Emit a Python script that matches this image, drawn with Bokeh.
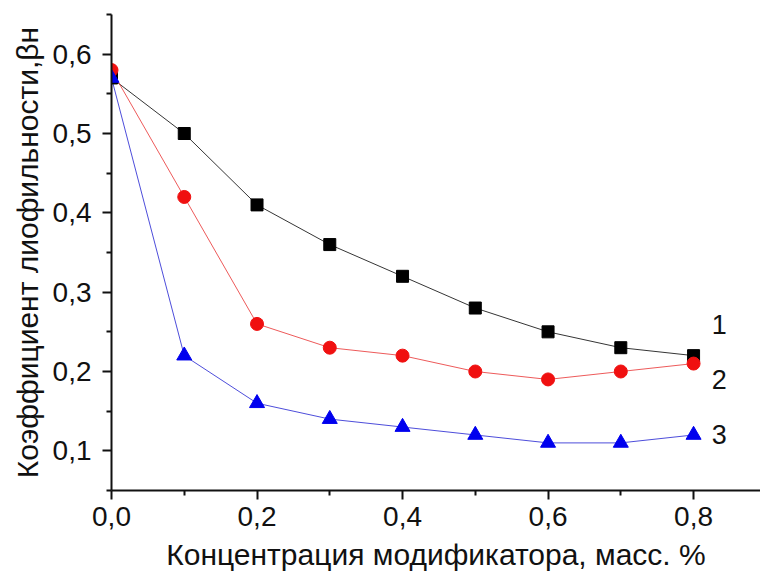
from bokeh.plotting import figure
from bokeh.models import FixedTicker, CustomJSTickFormatter, Range1d
from bokeh.core.properties import value
from bokeh.embed import file_html
from bokeh.resources import INLINE

conc = [0.0, 0.1, 0.2, 0.3, 0.4, 0.5, 0.6, 0.7, 0.8]
series1 = [0.57, 0.50, 0.41, 0.36, 0.32, 0.28, 0.25, 0.23, 0.22]
series2 = [0.58, 0.42, 0.26, 0.23, 0.22, 0.20, 0.19, 0.20, 0.21]
series3 = [0.57, 0.22, 0.16, 0.14, 0.13, 0.12, 0.11, 0.11, 0.12]
curve_labels = ["1", "2", "3"]
label_x = [0.825, 0.825, 0.825]
label_y = [0.259, 0.19, 0.12]
x_ticks = [0.0, 0.2, 0.4, 0.6, 0.8]
x_minor = [0.1, 0.3, 0.5, 0.7, 0.9]
y_ticks = [0.1, 0.2, 0.3, 0.4, 0.5, 0.6]
y_minor = [0.05, 0.15, 0.25, 0.35, 0.45, 0.55, 0.65]

FONT = "Liberation Sans"

p = figure(width=760, height=575, output_backend="svg", toolbar_location=None,
           x_range=Range1d(0, 0.892), y_range=Range1d(0.05, 0.65),
           min_border_left=111, min_border_right=0, min_border_top=14,
           min_border_bottom=85)
p.outline_line_color = None
p.grid.visible = False
p.background_fill_color = "white"

p.line(conc, series1, line_color="black", line_width=0.8)
p.line(conc, series2, line_color="#e83030", line_width=0.8)
p.line(conc, series3, line_color="#2020d0", line_width=0.8)
p.scatter(conc, series1, marker="square", size=12, color="black")
p.scatter(conc, series2, marker="circle", size=13, color="#f01010")
p.scatter(conc, series3, marker="triangle", size=15, color="#0000ee")

p.text(label_x, label_y, text=curve_labels, text_font=value(FONT),
       text_font_size="27px", text_baseline="middle", text_align="left",
       text_color="#111111")

fmt = CustomJSTickFormatter(code="return tick.toFixed(1).replace('.', ',');")

for ax in (p.xaxis[0], p.yaxis[0]):
    ax.formatter = fmt
    ax.major_tick_in = 0
    ax.major_tick_out = 9
    ax.minor_tick_in = 0
    ax.minor_tick_out = 5
    ax.axis_line_width = 2
    ax.major_tick_line_width = 2
    ax.minor_tick_line_width = 2
    ax.axis_line_color = "#111111"
    ax.major_tick_line_color = "#111111"
    ax.minor_tick_line_color = "#111111"
    ax.major_label_text_font = FONT
    ax.major_label_text_font_size = "28px"
    ax.major_label_text_color = "#111111"
    ax.axis_label_text_font = FONT
    ax.axis_label_text_font_size = "30px"
    ax.axis_label_text_font_style = "normal"
    ax.axis_label_text_color = "#111111"

p.xaxis[0].ticker = FixedTicker(ticks=x_ticks, minor_ticks=x_minor)
p.yaxis[0].ticker = FixedTicker(ticks=y_ticks, minor_ticks=y_minor)
p.xaxis[0].axis_label = "Концентрация модификатора, масс. %"
p.yaxis[0].axis_label = "Коэффициент лиофильности,βн"
p.xaxis[0].major_label_standoff = 7
p.yaxis[0].major_label_standoff = 11
p.xaxis[0].axis_label_standoff = 9
p.yaxis[0].axis_label_standoff = 6

open("out.html", "w").write(file_html(p, INLINE))
